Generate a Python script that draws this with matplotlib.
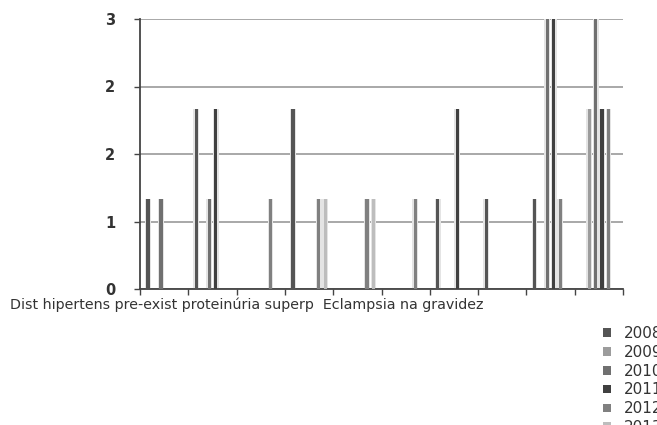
import numpy as np
import matplotlib
matplotlib.use("Agg")
import matplotlib.pyplot as plt

# ten categories, only the first labels are readable in the source
category_text = "Dist hipertens pre-exist proteinúria superp  Eclampsia na gravidez"
n_categories = 10
years = ["2008", "2009", "2010", "2011", "2012", "2013"]

v2008 = [1, 2, 0, 2, 0, 0, 1, 1, 1, 0]
v2009 = [0, 0, 0, 0, 0, 0, 0, 0, 0, 2]
v2010 = [1, 1, 0, 0, 0, 0, 0, 0, 3, 3]
v2011 = [0, 2, 0, 0, 0, 0, 2, 0, 3, 2]
v2012 = [0, 0, 1, 1, 1, 1, 0, 0, 1, 2]
v2013 = [0, 0, 0, 1, 1, 0, 0, 0, 0, 0]
series = [v2008, v2009, v2010, v2011, v2012, v2013]
colors = ["#555555", "#9c9c9c", "#707070", "#404040", "#808080", "#bdbdbd"]

y_ticks = [0, 0.75, 1.5, 2.25, 3]
y_labels = ["0", "1", "2", "2", "3"]

fig = plt.figure(figsize=(6.57, 4.25), dpi=100)
ax = fig.add_axes([140 / 657, 1 - 289 / 425, 483 / 657, 270 / 425])

x = np.arange(n_categories)
slot = 0.1333
handles = []
for k, (vals, col) in enumerate(zip(series, colors)):
    pos = x + (k - 2.5) * slot
    # soft halo behind each thin bar
    ax.bar(pos, vals, width=0.12, color="#e4e4e4", zorder=2)
    b = ax.bar(pos, vals, width=0.065, color=col, zorder=3, label=years[k])
    handles.append(b)

ax.set_xlim(-0.5, n_categories - 0.5)
ax.set_ylim(0, 3)
ax.set_yticks(y_ticks)
ax.set_yticklabels(y_labels, fontsize=10.5, fontweight="bold", color="#333333")
ax.set_xticks(np.arange(n_categories + 1) - 0.5)
ax.set_xticklabels([])
ax.tick_params(axis="y", length=4.3, width=1, color="#444444", pad=13.5)
ax.tick_params(axis="x", length=4, width=1, color="#444444", direction="out")
ax.grid(axis="y", color="#999999", linewidth=1.2, zorder=1)
ax.set_axisbelow(True)
for side in ["top", "right"]:
    ax.spines[side].set_visible(False)
ax.spines["left"].set_color("#444444")
ax.spines["bottom"].set_color("#444444")
ax.spines["left"].set_linewidth(1.3)
ax.spines["bottom"].set_linewidth(1.3)

fig.text(10 / 657, 1 - 305 / 425, category_text, fontsize=10.3, color="#333333",
         va="center", ha="left")

fig.legend(handles=handles, labels=years, loc="upper left",
           bbox_to_anchor=(603 / 657, 1 - 326 / 425), frameon=False,
           fontsize=11, handlelength=0.5, handleheight=0.5,
           handletextpad=0.85, labelspacing=0.25, borderpad=0, borderaxespad=0,
           labelcolor="#333333")

fig.savefig("out.png", dpi=100)
